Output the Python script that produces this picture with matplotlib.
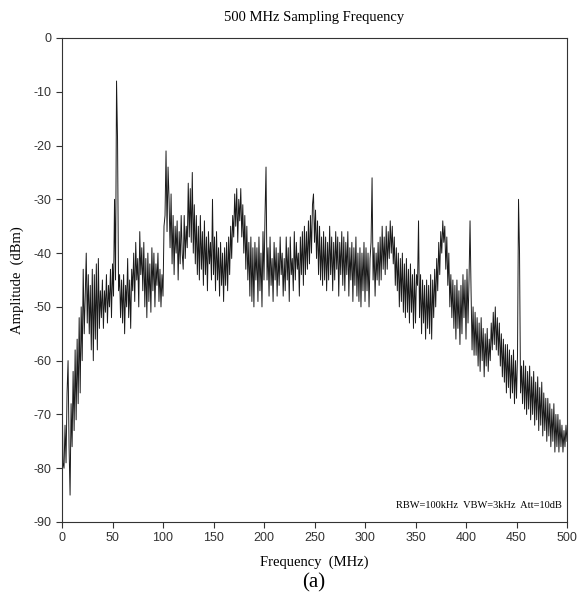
import numpy as np
import matplotlib
matplotlib.use("Agg")
import matplotlib.pyplot as plt

plt.rcParams["axes.unicode_minus"] = False

title = "500 MHz Sampling Frequency"
xlabel = "Frequency  (MHz)"
ylabel = "Amplitude  (dBm)"
note = "RBW=100kHz  VBW=3kHz  Att=10dB"
caption = "(a)"
xticks = [0, 50, 100, 150, 200, 250, 300, 350, 400, 450, 500]
yticks = [0, -10, -20, -30, -40, -50, -60, -70, -80, -90]

freq_step_mhz = 1
amplitude_dbm = [
    -63, -79, -80, -72, -79, -66, -60, -76, -85, -68, -76, -62, -73, -58, -71, -56, -68, -52, -66, -50,
    -60, -43, -55, -48, -40, -53, -44, -55, -46, -58, -43, -60, -44, -56, -42, -58, -41, -54, -47, -52,
    -45, -54, -47, -51, -44, -53, -46, -50, -43, -52, -42, -48, -30, -45, -8, -19, -47, -44, -52, -45,
    -53, -44, -55, -46, -50, -41, -52, -45, -54, -43, -47, -40, -49, -38, -45, -41, -50, -36, -44, -39,
    -47, -38, -50, -41, -52, -40, -49, -42, -51, -39, -47, -40, -50, -42, -46, -40, -49, -43, -50, -44,
    -48, -35, -33, -21, -36, -24, -30, -39, -29, -42, -33, -44, -35, -40, -34, -45, -36, -42, -33, -40,
    -43, -33, -41, -35, -39, -27, -37, -28, -38, -25, -40, -31, -42, -33, -44, -35, -45, -33, -43, -36,
    -46, -34, -44, -37, -47, -36, -42, -38, -45, -30, -44, -37, -47, -36, -45, -39, -48, -38, -46, -40,
    -49, -39, -46, -38, -47, -37, -44, -35, -41, -33, -37, -29, -35, -28, -38, -30, -34, -28, -37, -31,
    -40, -33, -43, -35, -45, -38, -48, -37, -49, -39, -50, -38, -45, -39, -49, -37, -47, -40, -50, -36,
    -45, -33, -24, -45, -39, -48, -37, -46, -41, -49, -38, -45, -39, -48, -40, -46, -37, -44, -40, -48,
    -41, -47, -37, -45, -39, -49, -37, -44, -41, -47, -36, -45, -38, -43, -40, -48, -37, -44, -36, -46,
    -35, -44, -36, -43, -34, -42, -33, -40, -31, -29, -38, -32, -41, -34, -44, -35, -45, -37, -46, -36,
    -45, -37, -47, -38, -45, -35, -44, -37, -47, -38, -45, -36, -43, -37, -48, -38, -44, -36, -46, -37,
    -47, -38, -44, -36, -48, -39, -45, -38, -49, -39, -46, -37, -48, -40, -49, -39, -50, -40, -47, -38,
    -49, -39, -47, -40, -50, -41, -38, -26, -45, -39, -48, -40, -45, -38, -46, -37, -45, -35, -43, -37,
    -44, -35, -43, -36, -41, -34, -40, -35, -42, -37, -46, -39, -47, -40, -50, -41, -49, -40, -51, -42,
    -52, -41, -51, -43, -53, -42, -51, -44, -54, -43, -53, -44, -46, -34, -52, -44, -55, -45, -53, -46,
    -56, -45, -54, -46, -55, -44, -56, -45, -52, -43, -50, -41, -47, -38, -44, -36, -40, -34, -38, -35,
    -43, -37, -46, -40, -50, -44, -52, -45, -54, -46, -56, -45, -54, -47, -57, -46, -55, -44, -52, -45,
    -56, -43, -53, -45, -34, -47, -58, -50, -59, -51, -59, -52, -61, -53, -62, -52, -60, -54, -63, -55,
    -61, -54, -62, -56, -60, -53, -58, -51, -57, -50, -58, -52, -59, -53, -61, -55, -63, -56, -64, -57,
    -66, -57, -65, -58, -67, -59, -66, -58, -68, -60, -67, -59, -30, -40, -66, -61, -68, -60, -69, -61,
    -70, -62, -69, -61, -71, -63, -70, -62, -72, -64, -71, -63, -73, -65, -72, -64, -74, -66, -73, -67,
    -75, -67, -74, -68, -76, -69, -75, -68, -77, -70, -76, -70, -77, -71, -76, -72, -77, -73, -76, -72,
    -75,
]
freq_mhz = np.arange(len(amplitude_dbm)) * freq_step_mhz

serif = ["Liberation Serif", "DejaVu Serif"]
sans = ["Liberation Sans", "DejaVu Sans"]

fig = plt.figure(figsize=(5.79, 6.08), dpi=100)
ax = fig.add_axes([62 / 579, 1 - 522 / 608, (567 - 62) / 579, (522 - 38) / 608])
ax.plot(freq_mhz, amplitude_dbm, color="#1a1a1a", lw=0.7)
ax.set_xlim(0, 500)
ax.set_ylim(-90, 0)
ax.set_xticks(xticks)
ax.set_yticks(yticks)
ax.tick_params(direction="out", length=4, width=0.8, labelsize=9, color="#333333", labelcolor="#333333")
for lab in ax.get_xticklabels() + ax.get_yticklabels():
    lab.set_family(sans)
for s in ax.spines.values():
    s.set_linewidth(0.8)
    s.set_color("#333333")

fig.text(314 / 579, 1 - 18 / 608, title, ha="center", va="center", family=serif, fontsize=10.5)
fig.text(314 / 579, 1 - 562 / 608, xlabel, ha="center", va="center", family=serif, fontsize=10.5)
fig.text(17 / 579, 1 - 280 / 608, ylabel, ha="center", va="center", rotation=90, family=serif, fontsize=10.5)
fig.text(314 / 579, 1 - 583 / 608, caption, ha="center", va="center", family=serif, fontsize=15)
ax.text(0.99, 0.025, note, transform=ax.transAxes, ha="right", va="bottom", family=serif, fontsize=7.5)

fig.savefig("out.png", dpi=100)
